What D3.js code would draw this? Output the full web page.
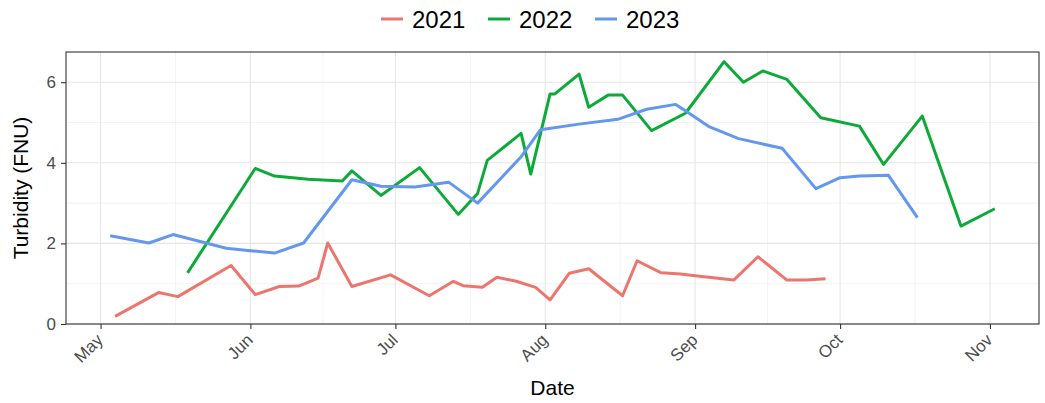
<!DOCTYPE html>
<html>
<head>
<meta charset="utf-8">
<script src="https://cdn.jsdelivr.net/npm/d3@7"></script>
<style>
  body { margin: 0; background: #fff; }
  svg text { font-family: "Liberation Sans", Arial, sans-serif; }
</style>
</head>
<body>
<div id="chart"></div>
<script>
// Turbidity by sampling date, one line per year (dates plotted on a common year)
const years = ['2021', '2022', '2023'];
const colors = ['#EC756D', '#0DAA3A', '#6497EE'];

const dates2021 = ['05-04','05-13','05-17','05-28','06-02','06-07','06-11','06-15','06-17','06-22',
  '06-30','07-08','07-13','07-15','07-19','07-22','07-26','07-30','08-02','08-06','08-10','08-17',
  '08-20','08-25','08-29','09-01','09-09','09-14','09-20','09-24','09-28'];
const values2021 = [0.19,0.78,0.68,1.45,0.73,0.93,0.94,1.14,2.01,0.93,
  1.22,0.70,1.06,0.95,0.91,1.16,1.06,0.91,0.60,1.26,1.37,0.70,
  1.57,1.27,1.24,1.20,1.09,1.67,1.09,1.09,1.12];

const dates2022 = ['05-19','06-02','06-06','06-13','06-20','06-22','06-28','07-06','07-14','07-18',
  '07-20','07-27','07-29','08-02','08-03','08-08','08-10','08-14','08-17','08-23','08-30','09-07',
  '09-11','09-15','09-20','09-27','10-05','10-10','10-18','10-26','11-02'];
const values2022 = [1.27,3.86,3.67,3.59,3.55,3.80,3.19,3.88,2.72,3.24,
  4.06,4.73,3.72,5.71,5.71,6.20,5.38,5.68,5.68,4.80,5.23,6.51,
  6.00,6.28,6.07,5.12,4.91,3.96,5.16,2.43,2.86];

const dates2023 = ['05-03','05-11','05-16','05-27','06-01','06-06','06-12','06-22','06-28','07-05',
  '07-12','07-18','07-27','07-31','08-08','08-16','08-22','08-28','08-30','09-04','09-10','09-19',
  '09-26','10-01','10-05','10-11','10-17'];
const values2023 = [2.19,2.01,2.22,1.88,1.82,1.76,2.01,3.58,3.42,3.40,
  3.52,3.00,4.15,4.82,4.96,5.08,5.33,5.45,5.29,4.89,4.60,4.36,
  3.36,3.63,3.67,3.69,2.64];

const yTicks = [0, 2, 4, 6];
const yMinor = [1, 3, 5];
const monthTicks = ['05-01','06-01','07-01','08-01','09-01','10-01','11-01'];

const width = 1045, height = 403;
const margin = { top: 52, right: 6, bottom: 79, left: 66 };
const parse = d3.timeParse('%Y-%m-%d');
const toDate = md => parse('2001-' + md);

const series = [
  { year: years[0], dates: dates2021, values: values2021 },
  { year: years[1], dates: dates2022, values: values2022 },
  { year: years[2], dates: dates2023, values: values2023 }
].map((s, i) => ({
  year: s.year,
  color: colors[i],
  points: s.dates.map((d, j) => ({ date: toDate(d), value: s.values[j] }))
}));

const svg = d3.select('#chart').append('svg')
  .attr('width', width)
  .attr('height', height);

// x extent expanded by 5% like ggplot
const allDates = series.flatMap(s => s.points.map(p => p.date));
const [dMin, dMax] = d3.extent(allDates);
const pad = (dMax - dMin) * 0.05;
const x = d3.scaleTime()
  .domain([new Date(+dMin - pad), new Date(+dMax + pad)])
  .range([margin.left, width - margin.right]);

const y = d3.scaleLinear()
  .domain([0, 6.75])
  .range([height - margin.bottom, margin.top]);

const majorX = monthTicks.map(toDate);
const minorX = [];
for (let i = 0; i < majorX.length - 1; i++) {
  minorX.push(new Date((+majorX[i] + +majorX[i + 1]) / 2));
}

const grid = svg.append('g');
grid.selectAll('line.minx').data(minorX).join('line')
  .attr('x1', d => x(d)).attr('x2', d => x(d))
  .attr('y1', y.range()[0]).attr('y2', y.range()[1])
  .attr('stroke', '#ebebeb').attr('stroke-width', 0.6);
grid.selectAll('line.miny').data(yMinor).join('line')
  .attr('x1', x.range()[0]).attr('x2', x.range()[1])
  .attr('y1', d => y(d)).attr('y2', d => y(d))
  .attr('stroke', '#ebebeb').attr('stroke-width', 0.6);
grid.selectAll('line.majx').data(majorX).join('line')
  .attr('x1', d => x(d)).attr('x2', d => x(d))
  .attr('y1', y.range()[0]).attr('y2', y.range()[1])
  .attr('stroke', '#e6e6e6').attr('stroke-width', 1.1);
grid.selectAll('line.majy').data(yTicks).join('line')
  .attr('x1', x.range()[0]).attr('x2', x.range()[1])
  .attr('y1', d => y(d)).attr('y2', d => y(d))
  .attr('stroke', '#e6e6e6').attr('stroke-width', 1.1);

const line = d3.line()
  .x(d => x(d.date))
  .y(d => y(d.value));

svg.append('g').selectAll('path').data(series).join('path')
  .attr('d', d => line(d.points))
  .attr('fill', 'none')
  .attr('stroke', d => d.color)
  .attr('stroke-width', 3)
  .attr('stroke-linejoin', 'round');

// panel border
svg.append('rect')
  .attr('x', x.range()[0]).attr('y', y.range()[1])
  .attr('width', x.range()[1] - x.range()[0])
  .attr('height', y.range()[0] - y.range()[1])
  .attr('fill', 'none').attr('stroke', '#333').attr('stroke-width', 1.1);

// axes
const xAxis = svg.append('g')
  .attr('transform', `translate(0,${y.range()[0]})`)
  .call(d3.axisBottom(x).tickValues(majorX).tickFormat(d3.timeFormat('%b')).tickSizeOuter(0).tickSize(5));
xAxis.select('.domain').remove();
xAxis.selectAll('line').attr('stroke', '#333').attr('stroke-width', 1.1);
xAxis.selectAll('text')
  .attr('fill', '#4d4d4d')
  .style('font-size', '17px')
  .attr('text-anchor', 'end')
  .attr('dy', null)
  .attr('y', 0)
  .attr('transform', 'translate(3,17) rotate(-45)');

const yAxis = svg.append('g')
  .attr('transform', `translate(${x.range()[0]},0)`)
  .call(d3.axisLeft(y).tickValues(yTicks).tickFormat(d3.format('d')).tickSizeOuter(0).tickSize(5).tickPadding(5));
yAxis.select('.domain').remove();
yAxis.selectAll('line').attr('stroke', '#333').attr('stroke-width', 1.1);
yAxis.selectAll('text').attr('fill', '#4d4d4d').style('font-size', '17px');

// axis titles
svg.append('text')
  .attr('x', (x.range()[0] + x.range()[1]) / 2)
  .attr('y', 395)
  .attr('text-anchor', 'middle')
  .style('font-size', '21px')
  .text('Date');

svg.append('text')
  .attr('transform', `translate(28,${(y.range()[0] + y.range()[1]) / 2}) rotate(-90)`)
  .attr('text-anchor', 'middle')
  .style('font-size', '21px')
  .text('Turbidity (FNU)');

// legend
const legend = svg.append('g').attr('transform', 'translate(381,19)');
const itemW = 107;
const items = legend.selectAll('g').data(series).join('g')
  .attr('transform', (d, i) => `translate(${i * itemW},0)`);
items.append('line')
  .attr('x1', 0).attr('x2', 22)
  .attr('y1', 0).attr('y2', 0)
  .attr('stroke', d => d.color)
  .attr('stroke-width', 3);
items.append('text')
  .attr('x', 31).attr('y', 8.5)
  .style('font-size', '24px')
  .text(d => d.year);
</script>
</body>
</html>
